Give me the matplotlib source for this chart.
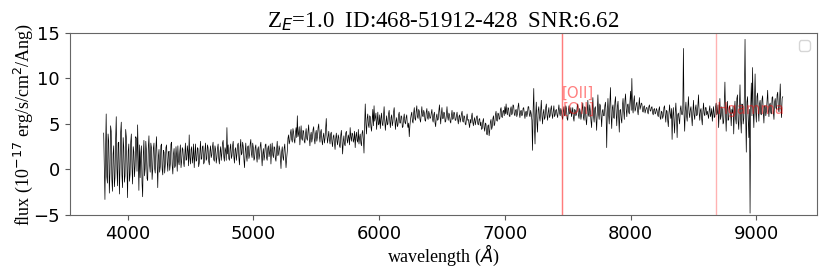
import numpy as np
import matplotlib
matplotlib.use('Agg')
import matplotlib.pyplot as plt

# spectrum on a 5 Angstrom grid (one row = 200 Angstrom)
wave_start = 3810
wave_step  = 5
flux = [
  4.0, 0.6, -3.3, 2.2, 6.1, -0.8, -1.5, 3.9, 3.1, -2.6, -0.4, 4.8, 4.2, -1.1, -2.4, 1.7, 2.6, -1.9, -0.9, 3.3,
  5.8, 0.1, -1.8, 2.9, 3.0, -2.7, 0.2, 4.1, 5.2, -0.6, -2.0, 3.5, 2.4, -1.4, -0.7, 4.4, 3.6, 0.3, -3.1, 2.0,
  2.8, -1.3, -0.5, 3.0, 3.9, 0.2, -1.6, 2.5, 1.9, -0.8, 0.4, 3.6, 3.4, -0.2, 4.9, 1.1, -2.3, 2.7, -0.9, 1.8,
  2.6, -1.5, -3.0, 1.6, 3.2, -0.7, 0.1, 3.1, 2.1, -1.0, -1.2, 2.4, 3.7, 0.5, -0.3, 2.9, 2.4, -1.1, 0.0, 2.3,
  2.9, 0.1, -0.4, 2.3, 3.6, 0.7, -2.0, 1.4, 2.2, -0.3, 0.3, 2.6, 2.8, 0.0, -0.6, 2.1, 1.9, -0.4, 0.5, 2.4,
  2.7, 0.8, -0.2, 1.9, 2.0, -0.1, 0.6, 2.8, 3.0, 0.4, -0.5, 1.7, 2.3, 0.2, 0.4, 2.5, 1.5, -0.2, 2.6, 0.9,
  0.5, 1.9, 2.7, 0.2, 0.9, 2.4, 2.2, 0.8, 0.3, 1.7, 2.9, 1.0, 1.1, 2.6, 2.0, 0.4, 3.8, 1.3, 0.6, 2.2,
  2.5, 0.7, 1.4, 2.8, 0.2, 1.5, 2.8, 0.9, 1.0, 2.4, 2.3, 0.3, 0.7, 2.0, 3.1, 1.1, 1.2, 2.5, 2.6, 0.6,
  0.8, 2.1, 2.9, 1.0, 1.2, 2.7, 2.4, 0.9, 0.5, 2.0, 2.6, 1.3, 1.6, 2.5, 3.0, 1.1, 0.9, 2.6, 2.2, 0.7,
  1.3, 2.3, 2.8, 1.2, 0.6, 1.9, 2.5, 1.0, 1.8, 2.9, 3.2, 1.4, 0.9, 2.4, 2.1, 1.0, 4.6, 1.7, 2.7, 1.2,
  1.0, 2.3, 2.8, 1.2, 1.5, 2.6, 3.1, 1.4, 0.7, 2.2, 2.4, 1.0, 1.7, 2.7, 2.9, 1.3, 0.5, 2.4, 3.3, 1.6,
  1.8, 3.0, 2.5, 1.1, 0.2, 1.9, 2.9, 1.5, 0.9, 2.5, 2.6, 1.2, 1.6, 2.8, 3.3, 1.7, 1.3, 2.9, 2.4, 1.0,
  1.2, 2.4, 2.7, 1.5, 0.8, 2.2, 2.5, 1.1, 1.6, 2.6, 3.0, 1.8, 0.4, 1.7, 2.3, 1.0, 1.5, 2.7, 2.8, 1.3,
  1.0, 2.3, 2.6, 1.4, 1.9, 2.8, 0.6, 2.0, 2.9, 1.6, 1.3, 2.5, 2.4, 1.2, 0.9, 2.2, 3.1, 1.5, 1.7, 2.6,
  2.2, 1.3, 0.1, 1.9, 2.5, 1.4, 1.0, 2.3, 2.8, 1.5, 0.2, 1.2, 2.0, 3.4, 3.8, 2.8, 3.1, 4.0, 4.4, 3.3,
  3.0, 4.5, 4.1, 3.2, 2.9, 4.0, 4.6, 3.5, 5.9, 3.6, 3.9, 4.7, 2.7, 3.8, 4.8, 3.4, 3.2, 4.3, 4.2, 3.1,
  2.9, 3.9, 4.5, 3.4, 3.2, 4.2, 4.9, 3.5, 2.6, 3.7, 4.1, 3.0, 3.5, 4.4, 4.7, 3.3, 2.8, 3.9, 4.3, 3.1,
  3.6, 4.6, 5.0, 3.7, 3.0, 4.1, 4.4, 3.2, 2.7, 3.6, 4.0, 2.9, 3.4, 4.5, 5.6, 3.8, 2.9, 3.5, 4.2, 3.3,
  2.8, 3.9, 4.1, 3.0, 2.5, 3.6, 3.8, 2.9, 2.2, 3.4, 4.0, 3.1, 2.7, 3.8, 3.5, 2.6, 2.4, 3.7, 4.3, 3.2,
  1.7, 3.0, 3.7, 2.8, 2.6, 4.0, 4.2, 3.3, 2.9, 3.8, 3.5, 2.7, 4.6, 3.6, 3.1, 4.0, 3.9, 3.0, 3.3, 4.2,
  2.4, 3.6, 4.1, 3.2, 3.0, 4.4, 2.8, 3.5, 3.9, 2.9, 2.6, 4.0, 4.3, 3.3, 1.8, 4.8, 7.2, 5.0, 3.9, 5.6,
  6.1, 4.9, 4.6, 5.9, 5.8, 4.7, 4.2, 5.5, 6.6, 4.8, 7.0, 5.3, 5.7, 6.2, 4.4, 5.4, 6.3, 4.9, 5.0, 6.0,
  4.5, 5.6, 6.2, 5.0, 4.8, 5.9, 6.9, 5.4, 4.3, 5.2, 5.9, 4.9, 5.0, 6.1, 6.5, 5.3, 4.6, 5.7, 6.0, 4.8,
  5.2, 6.3, 6.8, 5.5, 4.4, 5.3, 5.7, 4.7, 4.9, 6.0, 6.3, 5.1, 5.1, 5.9, 5.8, 4.6, 4.7, 5.6, 6.1, 5.2,
  5.0, 5.7, 6.0, 4.9, 4.6, 5.1, 3.6, 4.8, 5.5, 6.0, 6.3, 5.3, 5.1, 6.2, 6.8, 5.6, 5.4, 6.4, 7.0, 5.8,
  5.6, 6.6, 6.4, 5.5, 5.2, 6.1, 6.9, 5.9, 5.8, 6.5, 6.2, 5.4, 5.3, 6.3, 6.7, 5.7, 5.5, 6.4, 6.1, 5.6,
  5.7, 6.2, 6.6, 5.5, 5.2, 6.0, 6.3, 5.1, 4.7, 5.8, 6.1, 5.4, 5.5, 6.4, 7.1, 5.9, 5.0, 6.1, 6.8, 5.6,
  5.6, 6.3, 6.2, 5.2, 5.3, 6.0, 6.9, 5.8, 5.4, 6.2, 6.0, 5.3, 5.1, 5.9, 6.5, 5.5, 5.6, 6.3, 6.2, 5.4,
  5.4, 5.9, 6.3, 5.5, 5.0, 5.8, 6.0, 5.2, 5.6, 6.1, 6.4, 5.3, 5.2, 5.9, 5.8, 5.0, 4.9, 5.6, 6.1, 5.4,
  5.5, 5.0, 4.6, 5.5, 5.1, 5.8, 6.2, 5.2, 4.8, 5.4, 5.7, 4.9, 5.3, 5.8, 5.9, 5.0, 4.9, 5.5, 5.6, 4.8,
  5.2, 4.4, 4.5, 5.3, 5.6, 4.6, 4.2, 5.1, 5.0, 3.9, 3.8, 4.8, 4.9, 3.7, 4.3, 5.2, 5.5, 4.4, 4.7, 5.6,
  5.9, 4.8, 5.0, 6.0, 6.4, 5.4, 5.3, 6.2, 6.1, 5.5, 5.6, 6.6, 6.8, 5.8, 5.7, 6.4, 6.5, 5.9, 6.9, 6.1,
  7.2, 6.3, 6.0, 6.8, 6.7, 5.9, 5.8, 6.6, 6.9, 6.0, 6.2, 7.1, 7.0, 6.1, 5.9, 6.5, 6.6, 5.8, 6.1, 6.9,
  7.3, 6.2, 5.7, 6.4, 6.5, 5.9, 6.0, 6.7, 6.8, 6.1, 5.6, 6.3, 6.4, 5.8, 6.2, 6.9, 6.9, 6.0, 5.8, 6.5,
  6.1, 5.4, 2.1, 6.6, 8.9, 4.7, 2.8, 6.0, 7.4, 5.2, 4.1, 6.5, 6.9, 5.8, 5.3, 6.4, 7.6, 5.9, 5.0, 6.2,
  6.6, 5.5, 5.7, 6.8, 7.2, 6.0, 5.4, 6.3, 6.8, 5.7, 5.9, 6.6, 7.0, 6.1, 5.6, 6.4, 7.0, 5.8, 6.0, 6.5,
  6.6, 6.0, 5.7, 6.5, 7.1, 6.2, 5.9, 6.7, 6.4, 5.8, 5.5, 6.3, 6.9, 5.9, 6.0, 7.0, 6.7, 5.6, 5.4, 6.4,
  7.0, 6.1, 6.2, 6.8, 5.8, 6.3, 6.8, 5.7, 5.3, 6.6, 6.5, 5.9, 6.1, 6.9, 7.2, 6.0, 5.6, 6.7, 6.3, 5.5,
  6.0, 6.6, 7.3, 5.7, 5.4, 6.9, 6.8, 5.5, 4.9, 6.3, 7.6, 6.0, 5.8, 7.1, 6.4, 5.3, 4.6, 6.5, 7.9, 5.9,
  5.2, 6.7, 6.9, 5.6, 4.3, 6.2, 8.2, 6.1, 5.5, 7.2, 7.0, 5.8, 4.7, 6.4, 6.6, 5.9, 5.9, 7.0, 7.4, 6.2,
  2.4, 6.3, 7.8, 6.0, 5.0, 7.3, 9.0, 5.9, 4.5, 6.8, 7.1, 5.7, 5.6, 7.4, 8.0, 6.2, 4.8, 6.9, 7.5, 5.8,
  4.1, 6.5, 6.6, 5.5, 5.1, 7.0, 7.8, 6.4, 5.5, 7.6, 8.3, 6.6, 5.8, 7.1, 7.2, 6.3, 6.1, 7.5, 8.6, 6.5,
  10.0, 6.8, 6.2, 7.5, 8.1, 6.4, 6.6, 7.2, 7.4, 6.5, 6.0, 7.0, 7.9, 6.6, 6.9, 7.3, 7.2, 6.4, 6.3, 6.9,
  7.0, 6.2, 6.5, 6.8, 6.8, 6.3, 6.1, 6.9, 7.1, 6.5, 6.4, 6.8, 6.9, 6.2, 6.0, 6.6, 6.7, 6.1, 6.2, 6.7,
  6.5, 6.0, 5.8, 6.6, 6.9, 5.7, 5.5, 6.4, 6.3, 5.6, 5.9, 6.8, 7.0, 6.0, 5.2, 6.5, 6.4, 5.4, 4.7, 6.2,
  7.1, 6.1, 5.6, 6.7, 3.3, 5.9, 6.8, 5.2, 4.0, 6.3, 7.3, 5.8, 3.5, 6.0, 6.2, 5.5, 5.0, 6.6, 7.0, 6.1,
  6.0, 6.4, 13.3, 6.1, 4.2, 6.5, 7.4, 5.9, 5.3, 6.8, 8.0, 6.2, 5.7, 6.6, 6.9, 5.8, 4.8, 6.3, 7.6, 6.0,
  5.5, 6.7, 7.1, 5.9, 6.0, 7.0, 8.2, 6.3, 5.4, 6.5, 6.7, 5.6, 4.9, 6.4, 7.3, 6.1, 5.9, 6.8, 6.8, 6.0,
  6.4, 6.0, 5.6, 6.5, 7.0, 5.8, 6.1, 6.7, 5.3, 6.2, 6.9, 5.7, 5.8, 6.8, 7.3, 6.0, 6.2, 7.1, 4.6, 6.4,
  7.8, 5.5, 5.9, 6.9, 6.6, 5.0, 5.2, 7.2, 9.6, 6.1, 4.2, 6.7, 7.5, 5.4, 5.5, 7.0, 6.8, 6.2, 4.8, 6.6,
  6.2, 7.0, 3.9, 6.4, 7.5, 5.6, 5.0, 7.8, 8.2, 5.3, 4.4, 6.9, 9.3, 5.5, 4.0, 7.2, 7.1, 5.0, 5.6, 8.3,
  14.3, 6.0, 1.9, 7.4, 8.0, 5.7, 3.5, 6.6, -4.8, 6.8, 9.5, 5.9, 11.2, 6.4, 4.6, 7.6, 10.5, 6.3, 5.2, 8.0,
  8.4, 6.5, 5.3, 7.2, 7.6, 6.1, 6.0, 7.7, 8.1, 6.4, 5.1, 7.0, 7.0, 5.9, 6.4, 7.5, 8.7, 6.6, 5.8, 7.1,
  7.3, 6.2, 6.1, 7.9, 8.0, 6.3, 5.5, 7.4, 7.8, 6.8, 6.6, 8.2, 8.5, 6.7, 6.3, 7.6, 9.4, 6.9, 5.7, 7.8,
  8.0,
]
wave = wave_start + wave_step * np.arange(len(flux))

z        = 1.0
lines    = ['[OII]', '[OII]', 'Hgamma']
rest     = [3726.0, 3728.8, 4340.5]
label_y  = [7.9, 6.1, 6.1]

(fig, ax) = plt.subplots(figsize=(8.3, 2.77), dpi=100)
fig.subplots_adjust(left=0.084, right=0.984, bottom=0.224, top=0.881)

ax.plot(wave, flux, color='k', lw=0.5)

for (name, lam, y) in zip(lines, rest, label_y):
  obs = lam * (1 + z)
  ax.axvline(obs, color='red', alpha=0.3, lw=1)
  ax.text(obs, y, name, color='red', alpha=0.5, fontsize=10.7)

ax.set_ylim(-5, 15)
ax.tick_params(labelsize=13, color='0.35')
for s in ax.spines.values():
  s.set_color('0.4')

ax.set_title(r'Z$_E$=1.0  ID:468-51912-428  SNR:6.62',
             family='Liberation Serif', fontsize=16.5, pad=4)
ax.set_xlabel(r'wavelength ($Å$)', family='Liberation Serif', fontsize=13, labelpad=0)
ax.set_ylabel(r'flux (10$^{-17}$ erg/s/cm$^2$/Ang)', family='Liberation Serif',
              fontsize=13, labelpad=-1)
ax.legend(loc='upper right')

plt.savefig('out.png', dpi=100)
